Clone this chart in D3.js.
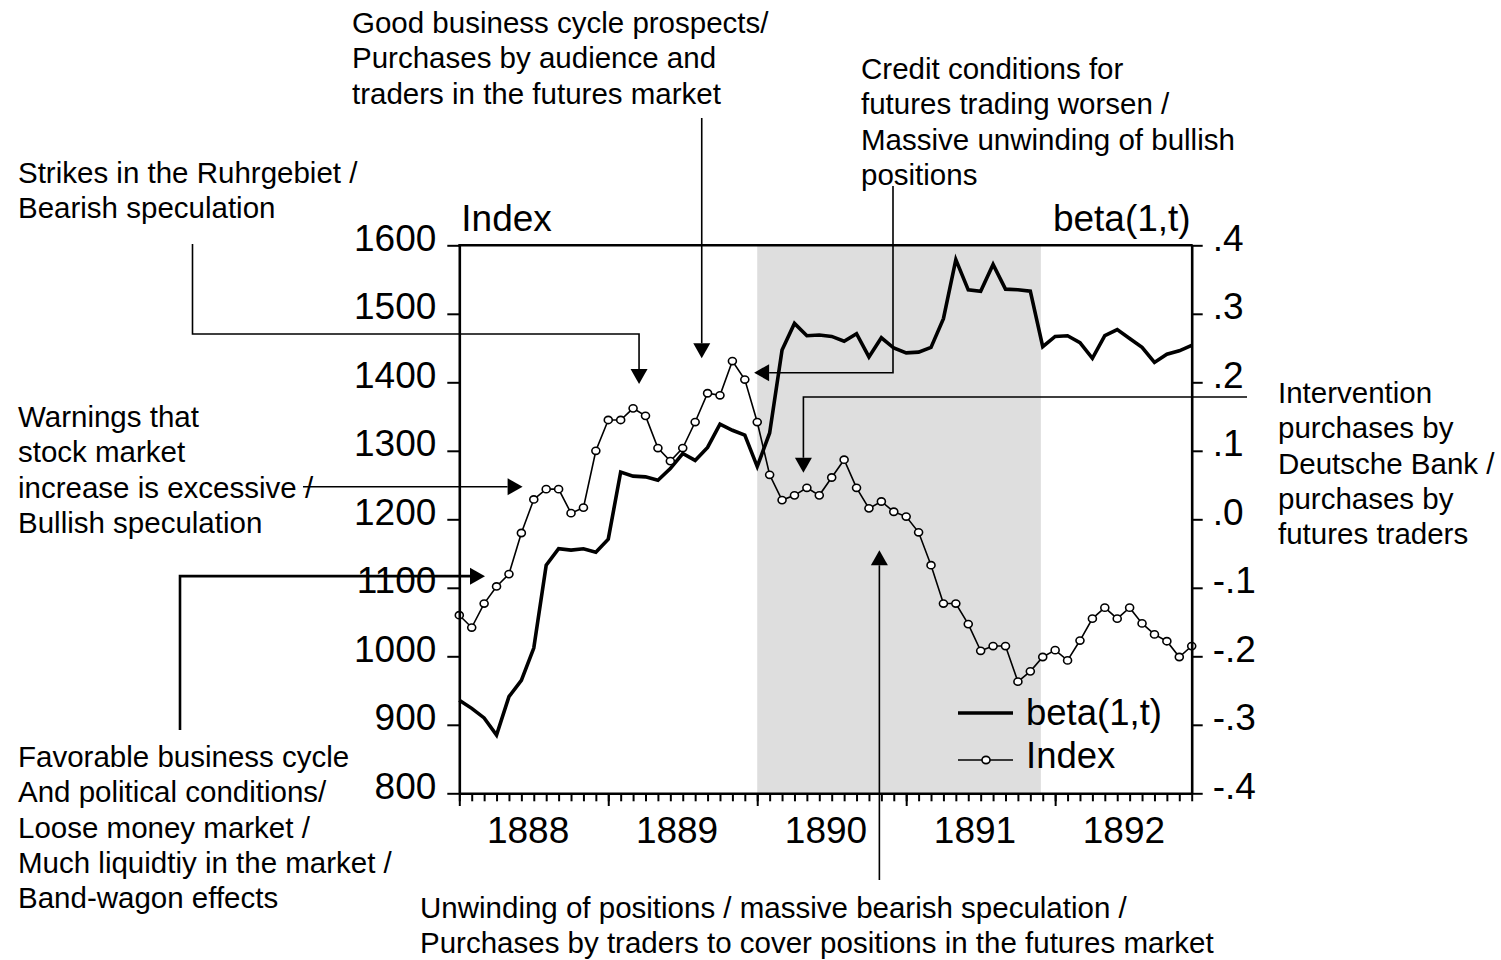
<!DOCTYPE html>
<html>
<head>
<meta charset="utf-8">
<script src="https://cdn.jsdelivr.net/npm/d3@7"></script>
<style>
  body { margin: 0; background: #fff; }
  svg { display: block; }
</style>
</head>
<body>
<script>
// monthly observations, Jan 1888 .. Dec 1892
const yearLabels = ["1888", "1889", "1890", "1891", "1892"];

const indexValues = [1060, 1042, 1077, 1102, 1120, 1180, 1229, 1244, 1244, 1209, 1217, 1300,
  1345, 1345, 1362, 1351, 1304, 1285, 1304, 1342, 1384, 1381, 1431, 1404,
  1342, 1265, 1228, 1235, 1246, 1235, 1261, 1287, 1246, 1216, 1226, 1211,
  1204, 1181, 1133, 1077, 1077, 1047, 1008, 1015, 1015, 963, 978, 999,
  1009, 994, 1023, 1055, 1071, 1055, 1071, 1048, 1032, 1022, 999, 1015];

const betaValues = [-0.264, -0.276, -0.290, -0.315, -0.259, -0.235, -0.188, -0.067, -0.043, -0.045, -0.043, -0.048,
  -0.029, 0.069, 0.063, 0.062, 0.057, 0.074, 0.096, 0.086, 0.105, 0.139, 0.130, 0.123,
  0.077, 0.126, 0.247, 0.286, 0.268, 0.269, 0.267, 0.260, 0.271, 0.237, 0.265, 0.250,
  0.243, 0.244, 0.251, 0.293, 0.379, 0.335, 0.333, 0.372, 0.336, 0.335, 0.333, 0.252,
  0.267, 0.268, 0.258, 0.235, 0.268, 0.277, 0.264, 0.251, 0.229, 0.241, 0.246, 0.254];

const leftTicks = [800, 900, 1000, 1100, 1200, 1300, 1400, 1500, 1600];
const rightTicks = [-0.4, -0.3, -0.2, -0.1, 0, 0.1, 0.2, 0.3, 0.4];
const shadeRange = [24, 46.85]; // month index, 1890 to late 1891

const svgWidth = 1501;
const svgHeight = 960;
const plotLeft = 459.3, plotRight = 1191.7, plotTop = 245.3, plotBottom = 793.3;
const fontFamily = '"Liberation Sans", Arial, sans-serif';
const axisFont = 37;
const noteFont = 29.5;

const xScale = d3.scaleLinear().domain([0, indexValues.length - 1]).range([plotLeft, plotRight]);
const yLeft = d3.scaleLinear().domain([800, 1600]).range([plotBottom, plotTop]);
const yRight = d3.scaleLinear().domain([-0.4, 0.4]).range([plotBottom, plotTop]);

const svg = d3.select("body").append("svg")
  .attr("width", svgWidth)
  .attr("height", svgHeight)
  .style("font-family", fontFamily);

// grey band
svg.append("rect")
  .attr("x", xScale(shadeRange[0]))
  .attr("y", plotTop)
  .attr("width", xScale(shadeRange[1]) - xScale(shadeRange[0]))
  .attr("height", plotBottom - plotTop)
  .attr("fill", "#dedede");

// beta(1,t), thick line on right axis
svg.append("path")
  .datum(betaValues)
  .attr("fill", "none")
  .attr("stroke", "#000")
  .attr("stroke-width", 3.6)
  .attr("stroke-linejoin", "miter")
  .attr("d", d3.line().x((d, i) => xScale(i)).y(d => yRight(d)));

// Index, thin line with circles on left axis
svg.append("path")
  .datum(indexValues)
  .attr("fill", "none")
  .attr("stroke", "#000")
  .attr("stroke-width", 1.6)
  .attr("d", d3.line().x((d, i) => xScale(i)).y(d => yLeft(d)));

svg.selectAll("ellipse.pt")
  .data(indexValues)
  .enter()
  .append("ellipse")
  .attr("class", "pt")
  .attr("cx", (d, i) => xScale(i))
  .attr("cy", d => yLeft(d))
  .attr("rx", 4)
  .attr("ry", 3.6)
  .attr("fill", "#fff")
  .attr("stroke", "#000")
  .attr("stroke-width", 1.6);

// axes
function styleAxis(g) {
  g.attr("font-family", fontFamily).attr("font-size", axisFont);
  g.select(".domain").attr("stroke-width", 2.6);
  g.selectAll(".tick line").attr("stroke-width", 2);
  g.selectAll(".tick text").attr("fill", "#000");
}

const axisLeft = d3.axisLeft(yLeft).tickValues(leftTicks).tickSize(12).tickSizeOuter(0).tickPadding(11)
  .tickFormat(d3.format("d"));
svg.append("g")
  .attr("transform", "translate(" + plotLeft + ",0)")
  .call(axisLeft)
  .call(styleAxis)
  .selectAll(".tick text").attr("dy", "0.14em");

const axisRight = d3.axisRight(yRight).tickValues(rightTicks).tickSize(11).tickSizeOuter(0).tickPadding(10)
  .tickFormat(d => d3.format(".1f")(d).replace("−", "-").replace("0.", "."));
svg.append("g")
  .attr("transform", "translate(" + plotRight + ",0)")
  .call(axisRight)
  .call(styleAxis)
  .selectAll(".tick text").attr("dy", "0.14em");

const monthAxis = d3.axisBottom(xScale).tickValues(d3.range(indexValues.length)).tickSize(8).tickSizeOuter(0).tickFormat("");
svg.append("g")
  .attr("transform", "translate(0," + plotBottom + ")")
  .call(monthAxis)
  .call(styleAxis);

const yearAxis = d3.axisBottom(xScale).tickValues(yearLabels.map((y, i) => i * 12)).tickSize(12.7).tickFormat("");
svg.append("g")
  .attr("transform", "translate(0," + plotBottom + ")")
  .call(yearAxis)
  .call(styleAxis)
  .call(g => g.select(".domain").remove());

const labelAxis = d3.axisBottom(xScale).tickValues(yearLabels.map((y, i) => i * 12 + 5.5)).tickSize(0).tickPadding(23.4)
  .tickFormat((d, i) => yearLabels[i]);
svg.append("g")
  .attr("transform", "translate(0," + plotBottom + ")")
  .call(labelAxis)
  .call(styleAxis)
  .call(g => g.select(".domain").remove());

// top frame line
svg.append("line")
  .attr("x1", xScale(0) - 1).attr("x2", xScale(indexValues.length - 1) + 1)
  .attr("y1", yLeft(1600)).attr("y2", yLeft(1600))
  .attr("stroke", "#000").attr("stroke-width", 2.6);

// axis titles
svg.append("text")
  .attr("x", plotLeft + 2).attr("y", 231)
  .attr("font-size", axisFont)
  .text("Index");
svg.append("text")
  .attr("x", plotRight - 1).attr("y", 231)
  .attr("text-anchor", "end")
  .attr("font-size", axisFont)
  .text("beta(1,t)");

// legend
const legend = svg.append("g").attr("transform", "translate(958,0)");
legend.append("line").attr("x1", 0).attr("x2", 55).attr("y1", 713).attr("y2", 713)
  .attr("stroke", "#000").attr("stroke-width", 3.6);
legend.append("text").attr("x", 68).attr("y", 725).attr("font-size", 36.5).text("beta(1,t)");
legend.append("line").attr("x1", 0).attr("x2", 55).attr("y1", 760).attr("y2", 760)
  .attr("stroke", "#000").attr("stroke-width", 1.6);
legend.append("ellipse").attr("cx", 28).attr("cy", 760).attr("rx", 4).attr("ry", 3.6)
  .attr("fill", "#fff").attr("stroke", "#000").attr("stroke-width", 1.6);
legend.append("text").attr("x", 68).attr("y", 768).attr("font-size", 36.5).text("Index");

// annotations: tip is [month index, index value]
const notes = [
  { lines: ["Good business cycle prospects/", "Purchases by audience and", "traders in the futures market"],
    tx: 352, ty: 33, tip: [19.53, 1435], dir: "down", route: (px, py) => [[px, 118]] },
  { lines: ["Credit conditions for", "futures trading worsen /", "Massive unwinding of bullish", "positions"],
    tx: 861, ty: 79, tip: [23.75, 1414], dir: "left", route: (px, py) => [[893, 186], [893, py]] },
  { lines: ["Strikes in the Ruhrgebiet /", "Bearish speculation"],
    tx: 18, ty: 183, tip: [14.48, 1397.5], dir: "down", route: (px, py) => [[192.5, 244], [192.5, 334], [px, 334]] },
  { lines: ["Warnings that", "stock market", "increase is excessive /", "Bullish speculation"],
    tx: 18, ty: 427, tip: [5.1, 1247.6], dir: "right", route: (px, py) => [[303, py]] },
  { lines: ["Intervention", "purchases by", "Deutsche Bank /", "purchases by", "futures traders"],
    tx: 1278, ty: 403, tip: [27.72, 1268], dir: "down", route: (px, py) => [[1247, 397], [px, 397]] },
  { lines: ["Favorable business cycle", "And political conditions/", "Loose money market /", "Much liquidtiy in the market /", "Band-wagon effects"],
    tx: 18, ty: 767, tip: [2.07, 1117], dir: "right", width: 2.6, route: (px, py) => [[180, 730], [180, py]] },
  { lines: ["Unwinding of positions / massive bearish speculation /", "Purchases by traders to cover positions in the futures market"],
    tx: 420, ty: 918, tip: [33.84, 1155], dir: "up", route: (px, py) => [[px, 880]] }
];

const dirs = { down: [0, 1], up: [0, -1], right: [1, 0], left: [-1, 0] };
const headLen = 15, headHalf = 8.5, lineGap = 35.3;

notes.forEach(function(n) {
  const t = svg.append("text").attr("font-size", noteFont);
  n.lines.forEach(function(line, i) {
    t.append("tspan").attr("x", n.tx).attr("y", n.ty + i * lineGap).text(line);
  });

  const px = xScale(n.tip[0]), py = yLeft(n.tip[1]);
  const d = dirs[n.dir];
  const bx = px - d[0] * headLen, by = py - d[1] * headLen; // base of arrow head
  const pts = n.route(px, py).concat([[bx, by]]);

  svg.append("path")
    .attr("d", d3.line()(pts))
    .attr("fill", "none")
    .attr("stroke", "#000")
    .attr("stroke-width", n.width || 1.6);

  svg.append("path")
    .attr("d", d3.line()([[px, py],
      [bx - d[1] * headHalf, by + d[0] * headHalf],
      [bx + d[1] * headHalf, by - d[0] * headHalf]]) + "Z")
    .attr("fill", "#000");
});
</script>
</body>
</html>
